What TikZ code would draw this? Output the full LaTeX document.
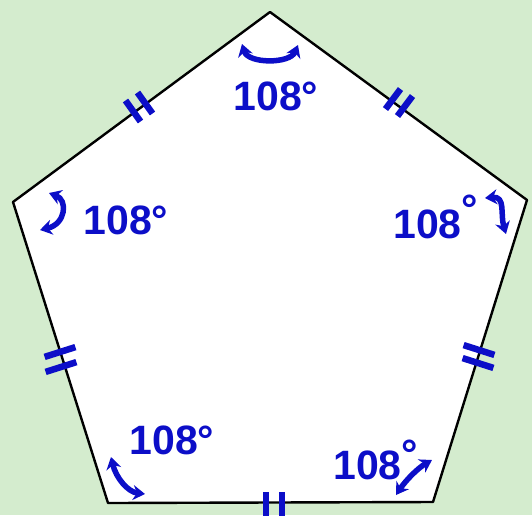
\documentclass[tikz,border=0pt]{standalone}
\usepackage{fontspec}
\setmainfont{Liberation Sans}
\usetikzlibrary{arrows.meta}
\definecolor{bg}{RGB}{212,236,206}
\definecolor{ink}{RGB}{12,14,200}
\begin{document}
\begin{tikzpicture}[x=1pt,y=-1pt,line join=round,
  side/.style={draw=black,line width=2.4pt,fill=white},
  tickmark/.style={draw=ink,line width=6.5pt,line cap=butt},
  turn/.style={draw=ink,line width=5.5pt,line cap=round,
    {Stealth[length=12pt,width=15pt]}-{Stealth[length=12pt,width=15pt]}},
  lab/.style={text=ink,font=\fontsize{41}{41}\selectfont\bfseries,inner sep=0pt}]
\fill[bg] (0,0) rectangle (532,515);
\useasboundingbox (0,0) rectangle (532,515);
\coordinate (A) at (270,12);
\coordinate (B) at (13,202);
\coordinate (C) at (527,200);
\coordinate (D) at (108,503);
\coordinate (E) at (433,502);
\draw[side] (A) -- (C) -- (E) -- (D) -- (B) -- cycle;
% tick marks
\draw[tickmark] (125.5,100.5) -- (140.5,121.5);
\draw[tickmark] (137.5,92.5) -- (152.5,113.5);
\draw[tickmark] (400.5,89) -- (385.5,109);
\draw[tickmark] (412.5,96) -- (397.5,116);
\draw[tickmark] (44.6,356.9) -- (75.4,347.1);
\draw[tickmark] (45.6,371.9) -- (76.4,362.1);
\draw[tickmark] (463.6,345.1) -- (494.4,354.9);
\draw[tickmark] (462.6,358.1) -- (493.4,367.9);
\draw[tickmark] (266,492) -- (266,516);
\draw[tickmark] (282,492) -- (282,516);
% angle arrows
\coordinate (t1) at (242,44); \coordinate (t2) at (298,45);
\draw[turn] (t1) .. controls (248,64) and (290,64) .. (t2);
\coordinate (l1) at (49,193); \coordinate (l2) at (40,230);
\draw[turn] (l1) .. controls (68,200) and (66,224) .. (l2);
\coordinate (r1) at (485,198); \coordinate (r2) at (506,234);
\draw[turn] (r1) .. controls (506,196) and (500,214) .. (r2);
\coordinate (bl1) at (111,457); \coordinate (bl2) at (145,494);
\draw[turn] (bl1) .. controls (116,478) and (128,492) .. (bl2);
\coordinate (br1) at (396,495); \coordinate (br2) at (432,460);
\draw[turn] (br1) .. controls (406,480) and (418,468) .. (br2);
% labels
\node[lab] (a) at (276,96) {108°};
\node[lab] (b) at (126,220) {108°};
\node[lab,anchor=west] (c) at (393,217) {108\raisebox{15pt}{°}};
\node[lab] (d) at (172,440) {108°};
\node[lab,anchor=west] (e) at (333,460) {108\raisebox{11pt}{°}};
\end{tikzpicture}
\end{document}
